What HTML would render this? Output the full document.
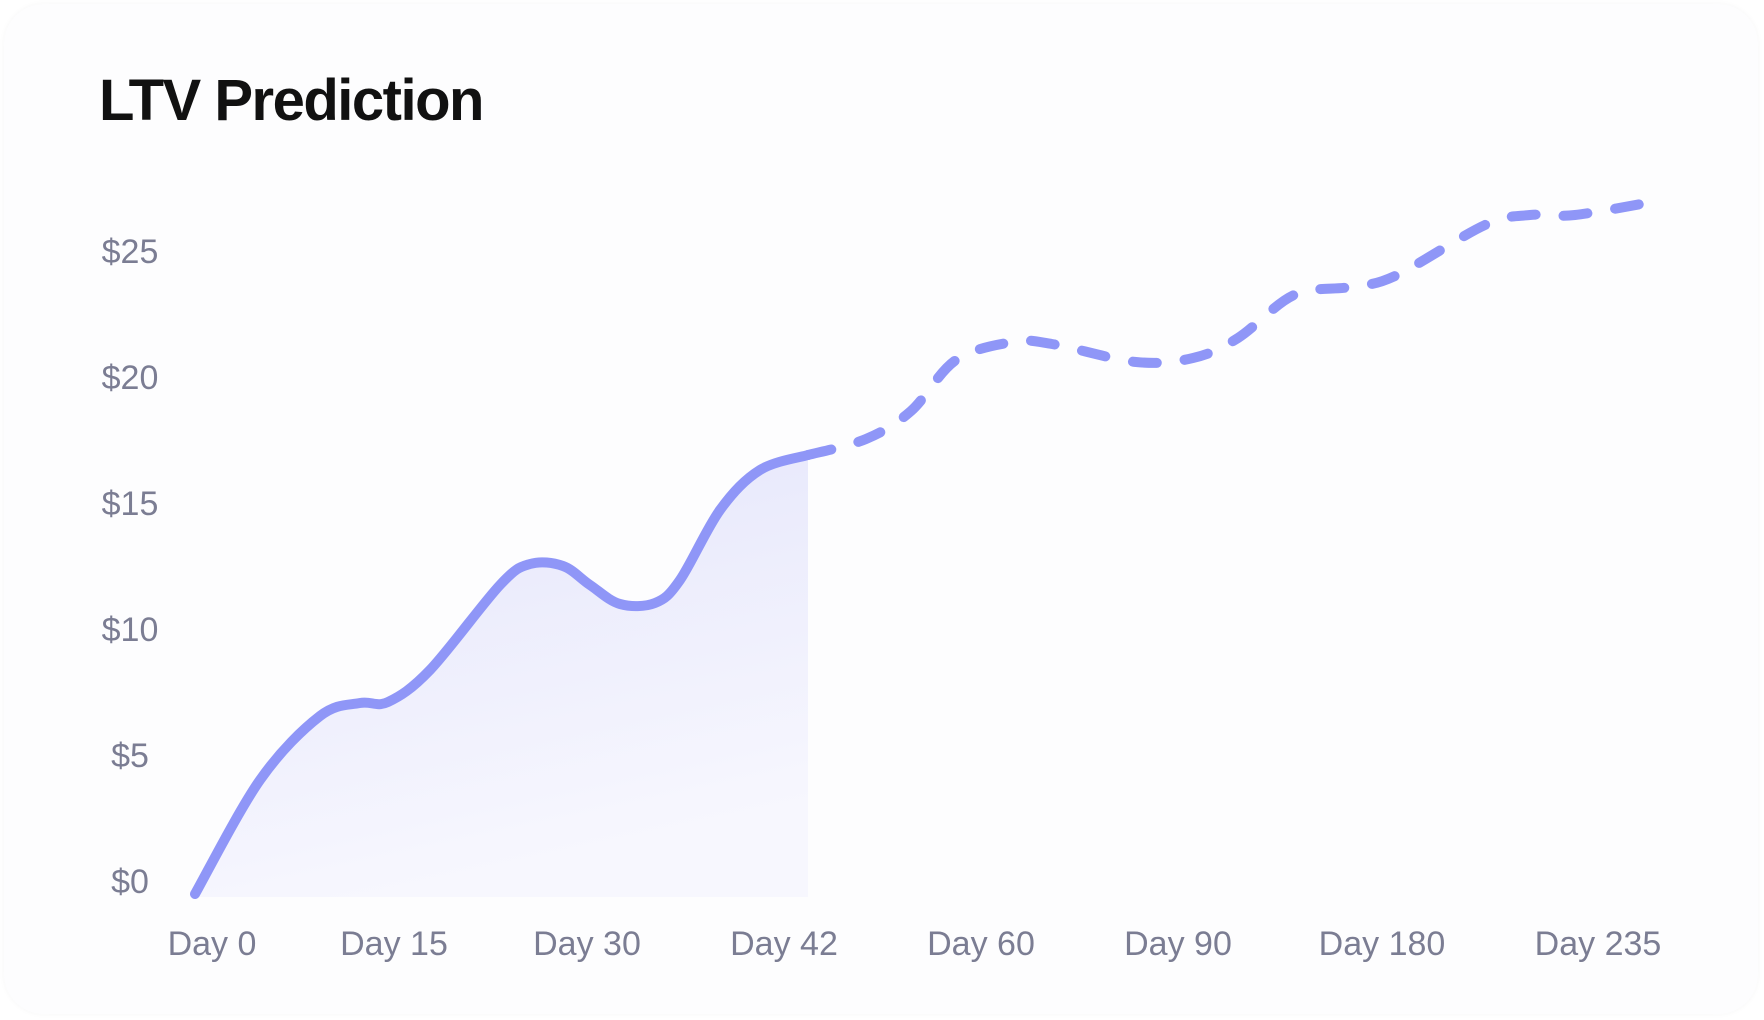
<!DOCTYPE html>
<html><head><meta charset="utf-8"><style>
html,body{margin:0;padding:0;background:#fff;}
body{width:1764px;height:1020px;overflow:hidden;font-family:"Liberation Sans",sans-serif;}
.card{position:absolute;left:4px;top:4px;width:1754px;height:1010px;border-radius:40px;background:#fdfdfe;box-shadow:0 0 6px rgba(0,0,0,0.04);}
</style></head><body>
<div class="card"></div>
<svg width="1764" height="1020" style="position:absolute;left:0;top:0">
<defs><linearGradient id="g" x1="0" y1="0" x2="0.3" y2="1">
<stop offset="0" stop-color="#e4e5fb"/><stop offset="1" stop-color="#f7f7fe"/></linearGradient></defs>
<text x="99" y="120" font-size="58" font-weight="bold" fill="#111" letter-spacing="-1.5">LTV Prediction</text>
<g font-size="34" fill="#7b7d93" text-anchor="middle">
<text x="130" y="263">$25</text><text x="130" y="389">$20</text><text x="130" y="515">$15</text>
<text x="130" y="641">$10</text><text x="130" y="767">$5</text><text x="130" y="893">$0</text>
<text x="212" y="955">Day 0</text><text x="394" y="955">Day 15</text><text x="587" y="955">Day 30</text>
<text x="784" y="955">Day 42</text><text x="981" y="955">Day 60</text><text x="1178" y="955">Day 90</text>
<text x="1382" y="955">Day 180</text><text x="1598" y="955">Day 235</text>
</g>
<path id="fill" fill="url(#g)"/>
<path id="solid" fill="none" stroke="#8f96f7" stroke-width="10" stroke-linecap="round"/>
<path id="dash" fill="none" stroke="#8f96f7" stroke-width="10" stroke-linecap="round" stroke-dasharray="24 28"/>
</svg>
<script>
function cr(p){let d="M"+p[0][0]+","+p[0][1];for(let i=0;i<p.length-1;i++){const a=p[i-1]||p[i],b=p[i],c=p[i+1],e=p[i+2]||c;
d+=" C"+(b[0]+(c[0]-a[0])/6)+","+(b[1]+(c[1]-a[1])/6)+" "+(c[0]-(e[0]-b[0])/6)+","+(c[1]-(e[1]-b[1])/6)+" "+c[0]+","+c[1];}return d;}
const s=[[195,894],[260,780],[320,716],[360,703],[388,702],[430,670],[500,585],[530,564],[563,566],[590,585],[620,604],[655,603],[680,580],[720,510],[760,470],[808,455]];
const ds=[[808,455],[866,439],[911,411],[956,360],[1013,342],[1052,344],[1136,362],[1193,358],[1238,338],[1294,295],[1350,287],[1395,276],[1485,225],[1530,215],[1575,215],[1663,200]];
const sp=cr(s);
document.getElementById("solid").setAttribute("d",sp);
document.getElementById("fill").setAttribute("d",sp+" L808,897 L195,897 Z");
document.getElementById("dash").setAttribute("d",cr(ds));
</script>
</body></html>
